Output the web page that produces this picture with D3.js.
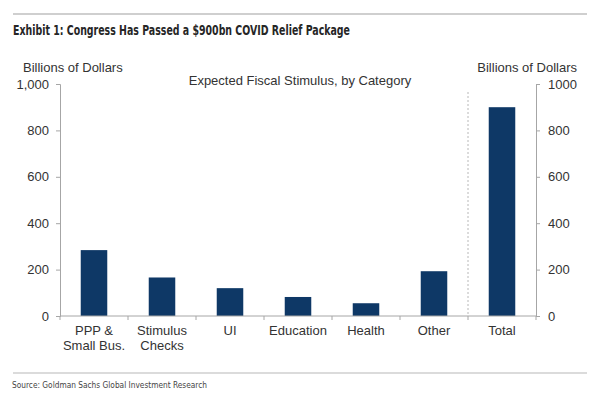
<!DOCTYPE html>
<html>
<head>
<meta charset="utf-8">
<script src="https://cdn.jsdelivr.net/npm/d3@7"></script>
<style>
  body { margin: 0; background: #fff; }
  svg text { font-family: "Liberation Sans", Arial, sans-serif; fill: #333; }
</style>
</head>
<body>
<svg id="chart" width="597" height="397"></svg>
<script>
// chart data
const categories = ["PPP &\nSmall Bus.", "Stimulus\nChecks", "UI", "Education", "Health", "Other", "Total"];
const values = [284, 166, 120, 82, 55, 193, 900];
const leftTicks = [0, 200, 400, 600, 800, 1000];
const rightTicks = [0, 200, 400, 600, 800, 1000];

const svg = d3.select("#chart");
const margin = { left: 60, right: 61, top: 84, bottom: 81 };
const W = 597, H = 397;

const x = d3.scaleBand()
    .domain(categories)
    .range([margin.left, W - margin.right])
    .paddingInner(0.61)
    .paddingOuter(0.305);

const y = d3.scaleLinear().domain([0, 1000]).range([H - margin.bottom, margin.top]);

const axisColor = "#a6a6a6";
const step = x.step();

// header rule + title
svg.append("line").attr("x1", 13).attr("x2", 587).attr("y1", 14).attr("y2", 14)
    .attr("stroke", "#cfcfcf").attr("stroke-width", 2);
svg.append("text").attr("x", 13).attr("y", 35)
    .style("font-family", "'Liberation Sans Narrow', 'DejaVu Sans Condensed', sans-serif")
    .style("font-weight", "bold").style("font-size", "13.5px").style("fill", "#262626")
    .attr("textLength", 337).attr("lengthAdjust", "spacingAndGlyphs")
    .text("Exhibit 1: Congress Has Passed a $900bn COVID Relief Package");

// axis titles
svg.append("text").attr("x", 23).attr("y", 72).style("font-size", "13px").text("Billions of Dollars");
svg.append("text").attr("x", 577).attr("y", 72).attr("text-anchor", "end").style("font-size", "13px").text("Billions of Dollars");
svg.append("text").attr("x", 300).attr("y", 85).attr("text-anchor", "middle").style("font-size", "13px")
    .text("Expected Fiscal Stimulus, by Category");

// bars
svg.selectAll("rect.bar")
    .data(values)
    .enter()
    .append("rect")
    .attr("class", "bar")
    .attr("x", (d, i) => x(categories[i]))
    .attr("width", x.bandwidth())
    .attr("y", d => y(d))
    .attr("height", d => y(0) - y(d))
    .attr("fill", "#0e3866");

// dotted separator before Total
svg.append("line")
    .attr("x1", margin.left + step * 6).attr("x2", margin.left + step * 6)
    .attr("y1", 92).attr("y2", y(0))
    .attr("stroke", "#b8b8b8").attr("stroke-dasharray", "2,2");

// left + right axes
const gl = svg.append("g").attr("transform", `translate(${margin.left},0)`)
    .call(d3.axisLeft(y).tickValues(leftTicks).tickSize(4).tickPadding(7).tickFormat(d3.format(",")));
const gr = svg.append("g").attr("transform", `translate(${W - margin.right},0)`)
    .call(d3.axisRight(y).tickValues(rightTicks).tickSize(4).tickPadding(8).tickFormat(d3.format("d")));

[gl, gr].forEach(g => {
    g.select(".domain").attr("stroke", axisColor);
    g.selectAll(".tick line").attr("stroke", axisColor);
    g.selectAll(".tick text").style("font-size", "13px").style("fill", "#333")
        .style("font-family", "'Liberation Sans', Arial, sans-serif");
});

// x axis
svg.append("line").attr("x1", margin.left).attr("x2", W - margin.right)
    .attr("y1", y(0)).attr("y2", y(0)).attr("stroke", axisColor);
const boundaries = d3.range(categories.length + 1).map(i => margin.left + i * step);
svg.selectAll("line.xtick").data(boundaries).enter().append("line")
    .attr("x1", d => d).attr("x2", d => d)
    .attr("y1", y(0)).attr("y2", y(0) + 4).attr("stroke", axisColor);

svg.selectAll("text.cat").data(categories).enter().append("text")
    .attr("text-anchor", "middle")
    .style("font-size", "13px")
    .attr("transform", d => `translate(${x(d) + x.bandwidth() / 2},${y(0) + 19})`)
    .each(function(d) {
        d.split("\n").forEach((ln, i) => {
            d3.select(this).append("tspan").attr("x", 0).attr("y", i * 15).text(ln);
        });
    });

// footer
svg.append("line").attr("x1", 13).attr("x2", 587).attr("y1", 373).attr("y2", 373)
    .attr("stroke", "#cfcfcf").attr("stroke-width", 1.5);
svg.append("text").attr("x", 12).attr("y", 388)
    .style("font-family", "'Liberation Sans Narrow', 'DejaVu Sans Condensed', sans-serif")
    .style("font-size", "9.5px").style("fill", "#444")
    .attr("textLength", 195).attr("lengthAdjust", "spacingAndGlyphs")
    .text("Source: Goldman Sachs Global Investment Research");
</script>
</body>
</html>
